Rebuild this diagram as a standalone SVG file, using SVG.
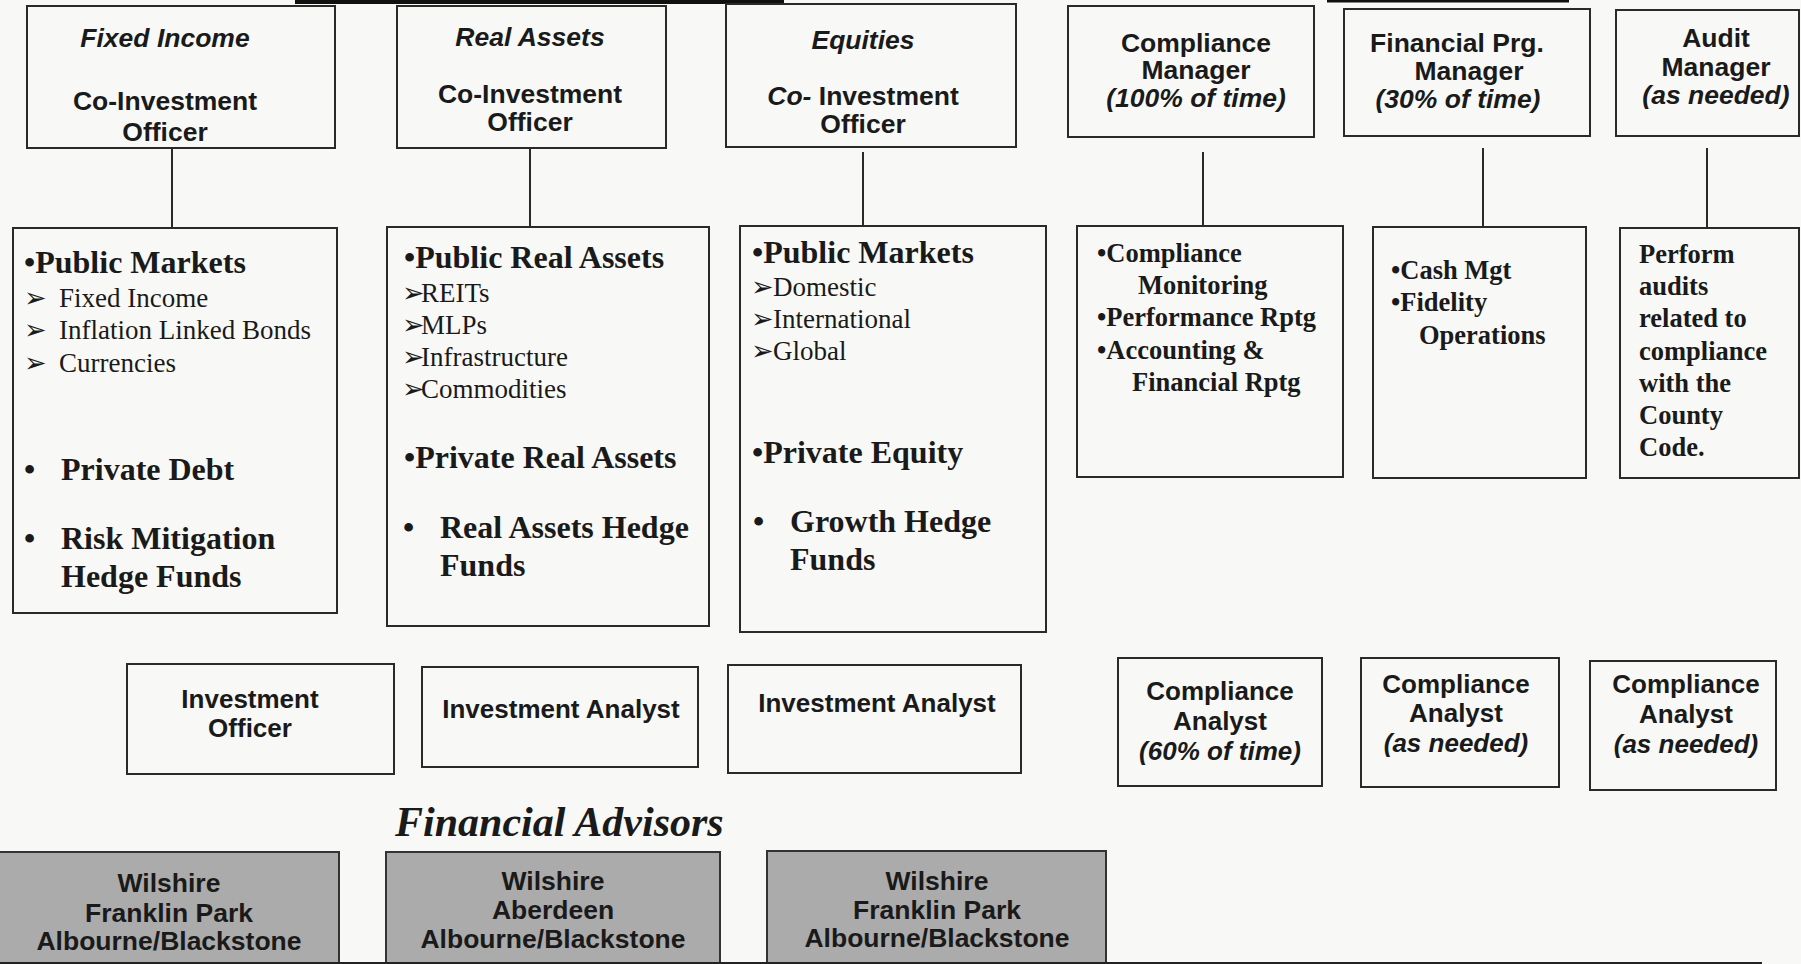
<svg xmlns="http://www.w3.org/2000/svg" width="1801" height="964" viewBox="0 0 1801 964">
<style>
.box{fill:none;stroke:#2a2a2a;stroke-width:2}
.gbox{fill:#ababab;stroke:#333;stroke-width:2}
.h{font-family:"Liberation Sans",Arial,sans-serif;font-weight:bold;font-size:26.5px;fill:#1a1a1a;text-anchor:middle}
.h3{font-size:26px}
.i{font-style:italic}
.s{font-family:"Liberation Serif","Times New Roman",serif;fill:#1a1a1a}
.sb{font-weight:bold;font-size:32px}
.sr{font-size:27px}
.sm{font-weight:bold;font-size:26.5px}
.ar{font-family:"DejaVu Sans",sans-serif;font-size:27px;fill:#1a1a1a}
.fa{font-family:"Liberation Serif","Times New Roman",serif;font-weight:bold;font-style:italic;font-size:42px;fill:#1a1a1a}
.conn line{stroke:#2a2a2a;stroke-width:2}
</style>
<rect x="0" y="0" width="1801" height="964" fill="#f8f9f6"/>
<rect x="295" y="0" width="489" height="4" fill="#111"/>
<rect x="1327" y="0" width="242" height="2.5" fill="#111"/>

<g id="fixed-income-cio">
<rect class="box" x="27" y="6" width="308" height="142"/>
<text class="h i" x="165" y="47">Fixed Income</text>
<text class="h" x="165" y="110">Co-Investment</text>
<text class="h" x="165" y="141">Officer</text>
</g>
<g id="real-assets-cio">
<rect class="box" x="397" y="6" width="269" height="142"/>
<text class="h i" x="530" y="46">Real Assets</text>
<text class="h" x="530" y="103">Co-Investment</text>
<text class="h" x="530" y="131">Officer</text>
</g>
<g id="equities-cio">
<rect class="box" x="726" y="4" width="290" height="143"/>
<text class="h i" x="863" y="49">Equities</text>
<text class="h" x="863" y="105"><tspan class="i">Co-</tspan> Investment</text>
<text class="h" x="863" y="133">Officer</text>
</g>
<g id="compliance-manager">
<rect class="box" x="1068" y="6" width="246" height="131"/>
<text class="h" x="1196" y="52">Compliance</text>
<text class="h" x="1196" y="79">Manager</text>
<text class="h i" x="1196" y="107">(100% of time)</text>
</g>
<g id="financial-prg-manager">
<rect class="box" x="1344" y="9" width="246" height="127"/>
<text class="h" x="1457" y="52">Financial Prg.</text>
<text class="h" x="1469" y="80">Manager</text>
<text class="h i" x="1458" y="108">(30% of time)</text>
</g>
<g id="audit-manager">
<rect class="box" x="1616" y="10" width="183" height="126"/>
<text class="h" x="1716" y="47">Audit</text>
<text class="h" x="1716" y="76">Manager</text>
<text class="h i" x="1716" y="104">(as needed)</text>
</g>

<g id="connectors" class="conn">
<line x1="172" y1="148" x2="172" y2="228"/>
<line x1="530" y1="148" x2="530" y2="227"/>
<line x1="863" y1="152" x2="863" y2="226"/>
<line x1="1203" y1="152" x2="1203" y2="226"/>
<line x1="1483" y1="148" x2="1483" y2="227"/>
<line x1="1707" y1="148" x2="1707" y2="228"/>
</g>

<g id="fixed-income-scope">
<rect class="box" x="13" y="228" width="324" height="385"/>
<text class="s sb" x="24" y="273">•Public Markets</text>
<text class="ar" x="24" y="307">➢</text>
<text class="ar" x="24" y="339">➢</text>
<text class="ar" x="24" y="372">➢</text>
<text class="s sr" x="59" y="307">Fixed Income</text>
<text class="s sr" x="59" y="339">Inflation Linked Bonds</text>
<text class="s sr" x="59" y="372">Currencies</text>
<text class="s sb" x="24" y="480">•</text>
<text class="s sb" x="61" y="480">Private Debt</text>
<text class="s sb" x="24" y="549">•</text>
<text class="s sb" x="61" y="549">Risk Mitigation</text>
<text class="s sb" x="61" y="587">Hedge Funds</text>
</g>
<g id="real-assets-scope">
<rect class="box" x="387" y="227" width="322" height="399"/>
<text class="s sb" x="404" y="268">•Public Real Assets</text>
<text class="ar" x="402" y="302">➢</text>
<text class="ar" x="402" y="334">➢</text>
<text class="ar" x="402" y="366">➢</text>
<text class="ar" x="402" y="398">➢</text>
<text class="s sr" x="421" y="302">REITs</text>
<text class="s sr" x="421" y="334">MLPs</text>
<text class="s sr" x="421" y="366">Infrastructure</text>
<text class="s sr" x="421" y="398">Commodities</text>
<text class="s sb" x="404" y="468">•Private Real Assets</text>
<text class="s sb" x="403" y="538">•</text>
<text class="s sb" x="440" y="538">Real Assets Hedge</text>
<text class="s sb" x="440" y="576">Funds</text>
</g>
<g id="equities-scope">
<rect class="box" x="740" y="226" width="306" height="406"/>
<text class="s sb" x="752" y="263">•Public Markets</text>
<text class="ar" x="751" y="296">➢</text>
<text class="ar" x="751" y="328">➢</text>
<text class="ar" x="751" y="360">➢</text>
<text class="s sr" x="773" y="296">Domestic</text>
<text class="s sr" x="773" y="328">International</text>
<text class="s sr" x="773" y="360">Global</text>
<text class="s sb" x="752" y="463">•Private Equity</text>
<text class="s sb" x="753" y="532">•</text>
<text class="s sb" x="790" y="532">Growth Hedge</text>
<text class="s sb" x="790" y="570">Funds</text>
</g>
<g id="compliance-scope">
<rect class="box" x="1077" y="226" width="266" height="251"/>
<text class="s sm" x="1097" y="262">•Compliance</text>
<text class="s sm" x="1138" y="294">Monitoring</text>
<text class="s sm" x="1097" y="326">•Performance Rptg</text>
<text class="s sm" x="1097" y="359">•Accounting &amp;</text>
<text class="s sm" x="1132" y="391">Financial Rptg</text>
</g>
<g id="financial-scope">
<rect class="box" x="1373" y="227" width="213" height="251"/>
<text class="s sm" x="1391" y="279">•Cash Mgt</text>
<text class="s sm" x="1391" y="311">•Fidelity</text>
<text class="s sm" x="1419" y="344">Operations</text>
</g>
<g id="audit-scope">
<rect class="box" x="1620" y="228" width="179" height="250"/>
<text class="s sm" x="1639" y="263">Perform</text>
<text class="s sm" x="1639" y="295">audits</text>
<text class="s sm" x="1639" y="327">related to</text>
<text class="s sm" x="1639" y="360">compliance</text>
<text class="s sm" x="1639" y="392">with the</text>
<text class="s sm" x="1639" y="424">County</text>
<text class="s sm" x="1639" y="456">Code.</text>
</g>

<g id="investment-officer">
<rect class="box" x="127" y="664" width="267" height="110"/>
<text class="h h3" x="250" y="708">Investment</text>
<text class="h h3" x="250" y="737">Officer</text>
</g>
<g id="investment-analyst-1">
<rect class="box" x="422" y="667" width="276" height="100"/>
<text class="h h3" x="561" y="718">Investment Analyst</text>
</g>
<g id="investment-analyst-2">
<rect class="box" x="728" y="665" width="293" height="108"/>
<text class="h h3" x="877" y="712">Investment Analyst</text>
</g>
<g id="compliance-analyst-60">
<rect class="box" x="1118" y="658" width="204" height="128"/>
<text class="h h3" x="1220" y="700">Compliance</text>
<text class="h h3" x="1220" y="730">Analyst</text>
<text class="h h3 i" x="1220" y="760">(60% of time)</text>
</g>
<g id="compliance-analyst-2">
<rect class="box" x="1361" y="658" width="198" height="129"/>
<text class="h h3" x="1456" y="693">Compliance</text>
<text class="h h3" x="1456" y="722">Analyst</text>
<text class="h h3 i" x="1456" y="752">(as needed)</text>
</g>
<g id="compliance-analyst-3">
<rect class="box" x="1590" y="661" width="186" height="129"/>
<text class="h h3" x="1686" y="693">Compliance</text>
<text class="h h3" x="1686" y="723">Analyst</text>
<text class="h h3 i" x="1686" y="753">(as needed)</text>
</g>

<text class="fa" x="395" y="836">Financial Advisors</text>

<g id="advisors-1">
<rect class="gbox" x="-2" y="852" width="341" height="120"/>
<text class="h" x="169" y="892">Wilshire</text>
<text class="h" x="169" y="922">Franklin Park</text>
<text class="h" x="169" y="950">Albourne/Blackstone</text>
</g>
<g id="advisors-2">
<rect class="gbox" x="386" y="852" width="334" height="120"/>
<text class="h" x="553" y="890">Wilshire</text>
<text class="h" x="553" y="919">Aberdeen</text>
<text class="h" x="553" y="948">Albourne/Blackstone</text>
</g>
<g id="advisors-3">
<rect class="gbox" x="767" y="851" width="339" height="121"/>
<text class="h" x="937" y="890">Wilshire</text>
<text class="h" x="937" y="919">Franklin Park</text>
<text class="h" x="937" y="947">Albourne/Blackstone</text>
</g>
<rect x="0" y="962" width="1762" height="2" fill="#222"/>
</svg>
